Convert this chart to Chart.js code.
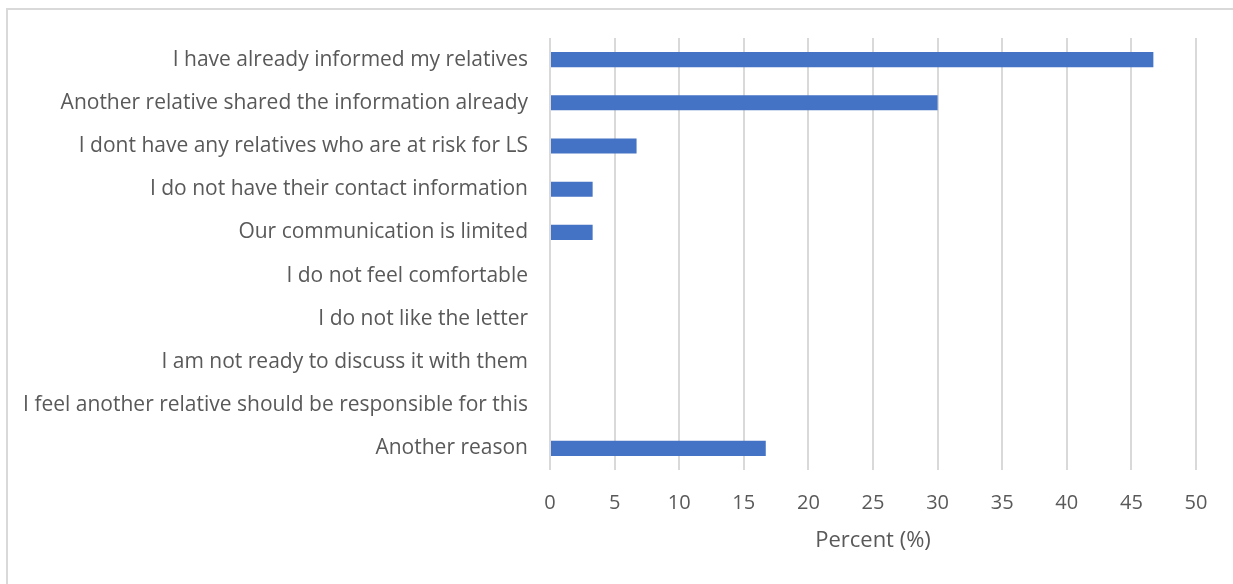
<!DOCTYPE html>
<html>
<head>
<meta charset="utf-8">
<script src="https://cdn.jsdelivr.net/npm/chart.js@4/dist/chart.umd.min.js"></script>
<style>
  html,body{margin:0;padding:0;background:#fff;}
  #wrap{position:relative;width:1233px;height:584px;overflow:hidden;}
  #frame{position:absolute;left:6px;top:8px;width:1300px;height:700px;border-left:2px solid #d9d9d9;border-top:2px solid #d9d9d9;}
  canvas{position:absolute;left:0;top:0;}
</style>
</head>
<body>
<div id="wrap">
  <div id="frame"></div>
  <canvas id="chart" width="1233" height="584"></canvas>
</div>
<script>
// survey reasons, percent of respondents
const reasons = [
  'I have already informed my relatives',
  'Another relative shared the information already',
  'I dont have any relatives who are at risk for LS',
  'I do not have their contact information',
  'Our communication is limited',
  'I do not feel comfortable',
  'I do not like the letter',
  'I am not ready to discuss it with them',
  'I feel another relative should be responsible for this',
  'Another reason'
];
const percents = [46.7, 30.0, 6.7, 3.3, 3.3, 0, 0, 0, 0, 16.7];
const xTicks = [0, 5, 10, 15, 20, 25, 30, 35, 40, 45, 50];
const xTitle = 'Percent (%)';

const FONT = '"Open Sans", Lato, sans-serif';
const TXT = '#595959';

new Chart(document.getElementById('chart').getContext('2d'), {
  type: 'bar',
  data: {
    labels: reasons,
    datasets: [{ data: percents, backgroundColor: '#4472c4', barPercentage: 0.35, categoryPercentage: 1.0 }]
  },
  options: {
    indexAxis: 'y',
    responsive: false,
    animation: false,
    layout: { padding: { top: 38, right: 37, bottom: 20, left: 10 } },
    plugins: { legend: { display: false }, tooltip: { enabled: false } },
    scales: {
      x: {
        min: xTicks[0], max: xTicks[xTicks.length - 1],
        afterBuildTicks: s => { s.ticks = xTicks.map(v => ({ value: v })); },
        afterFit: s => { s.height = 94; },
        grid: { color: '#d9d9d9', lineWidth: 2, drawTicks: false },
        border: { display: false },
        ticks: { color: TXT, font: { family: FONT, size: 20 }, padding: 21 },
        title: { display: true, text: xTitle, color: TXT, font: { family: FONT, size: 22 }, padding: { top: 0, bottom: 10 } }
      },
      y: {
        afterFit: s => { s.width = 540; },
        grid: { display: false },
        border: { display: false },
        ticks: { color: TXT, font: { family: FONT, size: 21 }, padding: 14, autoSkip: false }
      }
    }
  }
});
</script>
</body>
</html>
